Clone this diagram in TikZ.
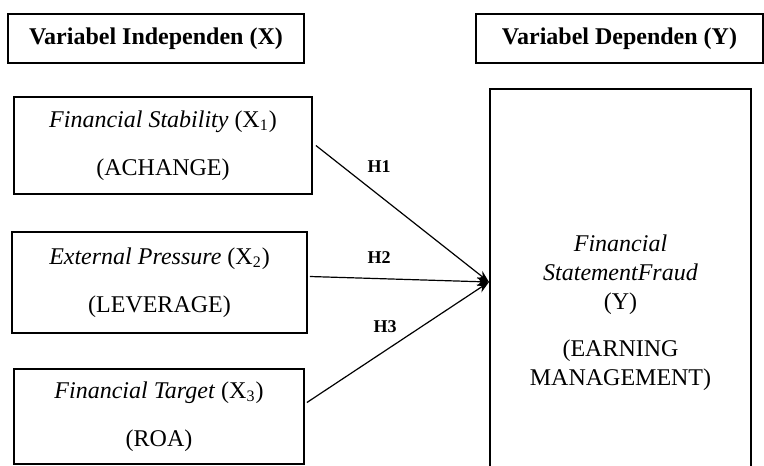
\documentclass[tikz,border=0pt]{standalone}
\usepackage{fontspec}
\setmainfont{Liberation Serif}
\usetikzlibrary{arrows.meta}
\begin{document}
\begin{tikzpicture}[x=0.5pt, y=-0.5pt,
    varbox/.style={draw, line width=0.9pt, align=center, inner sep=0pt,
        font=\fontsize{12}{14.5}\selectfont},
    header/.style={varbox, font=\fontsize{12}{13}\selectfont\bfseries},
    hyp/.style={-{Stealth[length=6pt, width=4.5pt]}, line width=0.6pt},
    hlabel/.style={font=\fontsize{9}{11}\selectfont\bfseries}]
        % Canvas (the dependent box runs off the bottom)
        \clip (0,0) rectangle (764,465);

        % Column headers
        \node[header, minimum width=148pt, minimum height=24.5pt] (hx) at (156,38.5) {Variabel Independen (X)};
        \node[header, minimum width=143.5pt, minimum height=24.5pt] (hy) at (619.5,38.5) {Variabel Dependen (Y)};

        % Independent variables
        \node[varbox, minimum width=149pt, minimum height=48.5pt] (x1) at (163,145.5)
            {\textit{Financial Stability} (X\textsubscript{1})\\[9.5pt](ACHANGE)};
        \node[varbox, minimum width=147.5pt, minimum height=50.5pt] (x2) at (159.5,282.5)
            {\textit{External Pressure} (X\textsubscript{2})\\[9.5pt](LEVERAGE)};
        \node[varbox, minimum width=145pt, minimum height=47.5pt] (x3) at (159,416.5)
            {\textit{Financial Target} (X\textsubscript{3})\\[9.5pt](ROA)};

        % Dependent variable
        \node[varbox, minimum width=130.5pt, minimum height=223.5pt] (y) at (620.5,312.5)
            {\textit{Financial}\\\textit{StatementFraud}\\(Y)\\[9pt](EARNING\\MANAGEMENT)};

        % Hypotheses
        \coordinate (hub) at (489,282);
        \draw[hyp] ([xshift=1.5pt]x1.east) -- (hub);
        \draw[hyp] ([shift={(1pt,3pt)}]x2.east) -- (hub);
        \draw[hyp] ([shift={(1pt,7pt)}]x3.east) -- (hub);
        \node[hlabel] (h1) at (379,167) {H1};
        \node[hlabel] (h2) at (379,258) {H2};
        \node[hlabel] (h3) at (385,327) {H3};
\end{tikzpicture}
\end{document}
